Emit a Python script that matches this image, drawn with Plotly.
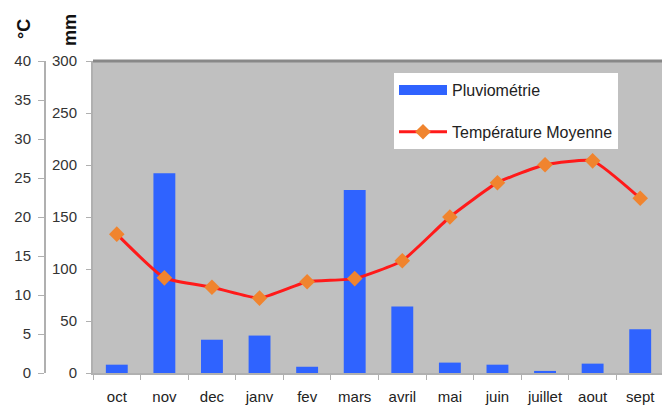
import plotly.graph_objects as go

months = ["oct", "nov", "dec", "janv", "fev", "mars", "avril", "mai", "juin", "juillet", "aout", "sept"]
rain_mm = [8, 192, 32, 36, 6, 176, 64, 10, 8, 2, 9, 42]
temp_c = [17.8, 12.2, 11.0, 9.6, 11.7, 12.1, 14.4, 20.0, 24.4, 26.7, 27.2, 22.4]
mm_ticks = [0, 50, 100, 150, 200, 250, 300]
c_ticks = [0, 5, 10, 15, 20, 25, 30, 35, 40]

OFF = 8  # page body margin
W, H = 670 - OFF, 406 - OFF
L, R, T, B = 2, 670 - 664, 61 - OFF, 406 - 373
pw = W - L - R
ph = H - T - B


def px_x(x):
    return (x - OFF - L) / pw


def px_y(y):
    return 1 - (y - OFF - T) / ph


x0 = px_x(93)
cpos = px_x(45)

fig = go.Figure()
fig.add_trace(go.Bar(x=months, y=rain_mm, name="Pluviométrie", marker=dict(color="#2f63ff", line_width=0),
                     width=0.46, yaxis="y", showlegend=False))
fig.add_trace(go.Scatter(x=[None], y=[None], name="Pluviométrie", mode="lines",
                         line=dict(color="#2f63ff", width=10), legendgroup="a"))
fig.add_trace(go.Scatter(x=months, y=temp_c, name="Température Moyenne", mode="lines+markers",
                         line=dict(color="#ff1a1a", width=3, shape="spline", smoothing=0.45),
                         marker=dict(symbol="diamond", size=12, color="#f0842e"), yaxis="y2",
                         legendgroup="b"))

font = dict(family="Liberation Sans, Arial, sans-serif", size=15, color="#333333")
fig.update_layout(
    width=W, height=H, margin=dict(l=L, r=R, t=T, b=B, autoexpand=False),
    paper_bgcolor="white", plot_bgcolor="#c0c0c0",
    font=font, showlegend=True,
    xaxis=dict(domain=[x0, 1], range=[-0.5, 11.5], showline=True, linecolor="#b0b0b0", linewidth=2,
               ticks="outside", tickson="boundaries", ticklen=5, tickcolor="#b0b0b0",
               ticklabelstandoff=9,
               showgrid=False, tickfont=dict(size=15, color="#222"), automargin=False),
    yaxis=dict(range=[0, 300], tickvals=mm_ticks, showgrid=False, showline=True, linecolor="#b0b0b0",
               linewidth=2, ticks="outside", ticklen=5, tickcolor="#b0b0b0", zeroline=False,
               ticklabelstandoff=6,
               tickfont=dict(size=15, color="#333"), automargin=False),
    yaxis2=dict(range=[0, 40], tickvals=c_ticks, overlaying="y", anchor="free", position=cpos, side="left",
                showgrid=False, showline=True, linecolor="#b0b0b0", linewidth=2, ticks="outside",
                ticklen=6, tickcolor="#b0b0b0", zeroline=False, tickfont=dict(size=15, color="#333"),
                ticklabelstandoff=4, automargin=False),
    legend=dict(x=px_x(394), y=px_y(73), xanchor="left", yanchor="top",
                bgcolor="white", borderwidth=0, font=dict(size=16, color="#222"),
                tracegroupgap=18, itemwidth=48),
    shapes=[dict(type="line", xref="paper", yref="paper", x0=x0, x1=1, y0=1, y1=1,
                 line=dict(color="#888888", width=3)),
            dict(type="line", xref="paper", yref="paper", x0=1, x1=1, y0=0, y1=1,
                 line=dict(color="#888888", width=2))],
    annotations=[
        dict(text="<b>°C</b>", x=px_x(24), y=px_y(29), xref="paper", yref="paper", textangle=-90,
             xanchor="center", yanchor="middle",
             showarrow=False, font=dict(size=18, color="#111")),
        dict(text="<b>mm</b>", x=px_x(70), y=px_y(30), xref="paper", yref="paper", textangle=-90,
             xanchor="center", yanchor="middle",
             showarrow=False, font=dict(size=18, color="#111")),
    ],
)
fig.write_html("out.html")
